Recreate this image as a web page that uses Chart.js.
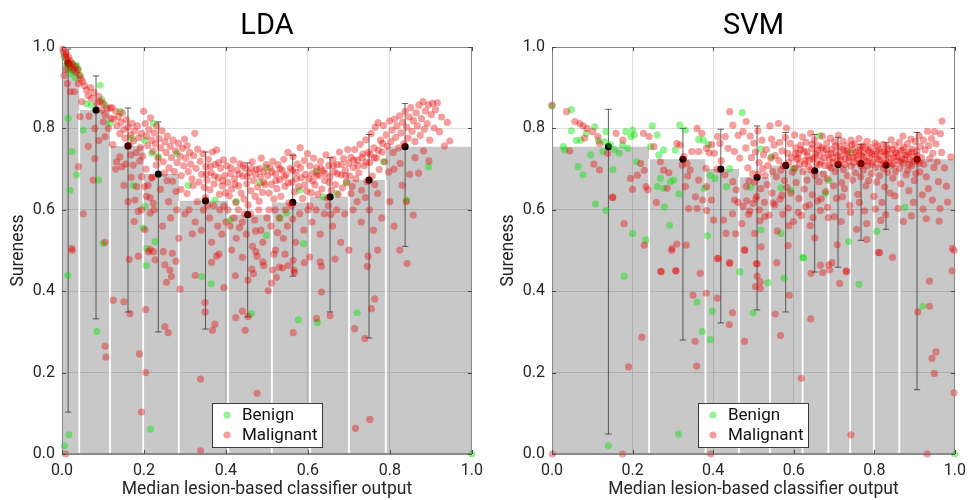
<!DOCTYPE html>
<html><head><meta charset="utf-8">
<script src="https://cdn.jsdelivr.net/npm/chart.js@4.4.1/dist/chart.umd.min.js"></script>
<style>
html,body{margin:0;padding:0;background:#fff;overflow:hidden;width:973px;height:500px;}
.wrap{position:absolute;top:0;height:500px;}
#w1{left:0;width:490px;}
#w2{left:490px;width:483px;}
</style></head><body>
<div class="wrap" id="w1"><canvas id="c1" width="490" height="500"></canvas></div>
<div class="wrap" id="w2"><canvas id="c2" width="483" height="500"></canvas></div>
<script>
// ---------------- DATA ----------------
const panelTitles = ['LDA', 'SVM'];
const seriesLabels = ['Benign', 'Malignant'];
const xAxisTitle = 'Median lesion-based classifier output';
const yAxisTitle = 'Sureness';

// LDA bins (grey bars = mean sureness per bin)
const ldaEdges = [0, 0.042, 0.117, 0.198, 0.285, 0.405, 0.512, 0.605, 0.700, 0.790, 1.0];
const ldaMeans = [0.960, 0.845, 0.757, 0.688, 0.622, 0.588, 0.618, 0.632, 0.673, 0.755];
const ldaMeanX = [0.015, 0.083, 0.161, 0.235, 0.350, 0.453, 0.563, 0.654, 0.749, 0.837];
const ldaErrHigh = [0.995, 0.929, 0.850, 0.816, 0.742, 0.715, 0.734, 0.728, 0.785, 0.861];
const ldaErrLow = [0.103, 0.332, 0.349, 0.300, 0.307, 0.337, 0.437, 0.349, 0.285, 0.510];

const ldaBenign = [
[0.005,0.975],[0.012,0.96],[0.018,0.95],[0.025,0.96],[0.028,0.94],[0.035,0.955],[0.04,0.945],[0.02,0.935],[0.015,0.945],[0.045,0.93],[0.032,0.925],
[0.015,0.825],[0.024,0.743],[0.036,0.686],[0.02,0.648],[0.052,0.796],[0.089,0.673],[0.1,0.517],[0.06,0.861],[0.072,0.857],[0.093,0.906],
[0.097,0.87],[0.105,0.857],[0.117,0.812],[0.142,0.841],[0.202,0.771],[0.219,0.739],[0.235,0.731],[0.28,0.739],[0.223,0.812],[0.17,0.776],
[0.198,0.555],[0.202,0.608],[0.227,0.522],[0.174,0.66],[0.207,0.505],[0.014,0.439],[0.017,0.047],[0.006,0.02],[1.0,0.0],[0.085,0.301],
[0.206,0.463],[0.216,0.061],[0.341,0.436],[0.364,0.418],[0.462,0.345],[0.577,0.33],[0.623,0.323],[0.72,0.347],
[0.308,0.66],[0.373,0.624],[0.425,0.62],[0.41,0.575],[0.499,0.703],[0.483,0.666],[0.532,0.58],[0.548,0.592],[0.499,0.537],
[0.58,0.648],[0.637,0.632],[0.67,0.64],[0.694,0.666],[0.621,0.694],[0.784,0.718],[0.894,0.706],[0.841,0.624],[0.589,0.517]
];

const ldaMalignant = [
[0.002,0.995],[0.004,0.988],[0.006,0.982],[0.008,0.976],[0.01,0.985],[0.012,0.97],[0.014,0.962],[0.016,0.975],[0.018,0.958],[0.02,0.966],
[0.022,0.95],[0.025,0.958],[0.028,0.944],[0.031,0.952],[0.034,0.938],[0.038,0.945],[0.042,0.93],[0.046,0.922],[0.05,0.915],[0.005,0.93],
[0.009,0.945],[0.013,0.91],[0.02,0.89],[0.03,0.89],[0.04,0.91],[0.048,0.866],[0.044,0.829],[0.064,0.756],[0.04,0.706],[0.052,0.59],
[0.024,0.505],[0.009,0.0],
[0.055,0.905],[0.06,0.894],[0.064,0.88],[0.07,0.9],[0.072,0.874],[0.078,0.888],[0.085,0.862],[0.09,0.878],[0.093,0.866],[0.097,0.845],
[0.1,0.862],[0.105,0.833],[0.11,0.85],[0.113,0.8],[0.117,0.85],[0.101,0.816],[0.08,0.8],[0.08,0.726],[0.076,0.673],[0.105,0.78],
[0.09,0.77],[0.066,0.83],[0.12,0.825],[0.105,0.52],
[0.122,0.851],[0.126,0.823],[0.131,0.842],[0.134,0.806],[0.138,0.829],[0.141,0.787],[0.144,0.815],[0.147,0.838],[0.151,0.797],[0.154,0.776],
[0.157,0.821],[0.161,0.803],[0.164,0.758],[0.167,0.784],[0.171,0.812],[0.174,0.769],[0.177,0.794],[0.181,0.741],[0.184,0.806],[0.187,0.777],
[0.191,0.753],[0.194,0.788],[0.197,0.732],[0.199,0.842],
[0.124,0.76],[0.131,0.7],[0.141,0.73],[0.133,0.718],[0.146,0.706],[0.151,0.66],[0.156,0.712],[0.161,0.62],[0.169,0.68],[0.174,0.71],
[0.176,0.571],[0.182,0.657],[0.178,0.624],[0.19,0.72],[0.194,0.6],[0.186,0.596],[0.168,0.735],
[0.203,0.812],[0.206,0.781],[0.209,0.758],[0.212,0.797],[0.216,0.826],[0.219,0.771],[0.222,0.744],[0.225,0.789],[0.228,0.762],[0.231,0.806],
[0.234,0.727],[0.237,0.775],[0.241,0.752],[0.244,0.794],[0.247,0.718],[0.251,0.767],[0.254,0.741],[0.257,0.781],[0.261,0.703],[0.264,0.756],
[0.267,0.728],[0.271,0.771],[0.274,0.694],[0.277,0.745],[0.281,0.716],[0.284,0.763],[0.288,0.732],[0.291,0.684],[0.294,0.751],[0.297,0.708],
[0.299,0.774],
[0.205,0.7],[0.21,0.66],[0.215,0.63],[0.22,0.68],[0.225,0.6],[0.23,0.71],[0.24,0.65],[0.245,0.56],[0.25,0.69],[0.26,0.62],
[0.265,0.58],[0.27,0.67],[0.28,0.6],[0.285,0.53],[0.29,0.65],[0.3,0.59],[0.202,0.657],[0.219,0.678],[0.194,0.681],[0.206,0.633],
[0.223,0.616],[0.215,0.592],[0.202,0.551],[0.215,0.502],[0.227,0.477],[0.256,0.672],[0.278,0.645],
[0.302,0.727],[0.305,0.758],[0.308,0.694],[0.311,0.741],[0.314,0.712],[0.317,0.676],[0.321,0.733],[0.324,0.788],[0.327,0.702],[0.331,0.749],
[0.334,0.668],[0.337,0.719],[0.341,0.687],[0.344,0.738],[0.347,0.655],[0.351,0.706],[0.354,0.673],[0.357,0.724],[0.361,0.649],[0.364,0.691],
[0.367,0.742],[0.371,0.664],[0.374,0.711],[0.377,0.747],[0.381,0.679],[0.384,0.638],[0.387,0.702],[0.391,0.659],[0.394,0.723],[0.397,0.684],
[0.399,0.642],
[0.305,0.64],[0.31,0.6],[0.32,0.66],[0.325,0.57],[0.33,0.62],[0.34,0.55],[0.345,0.6],[0.35,0.63],[0.36,0.58],[0.365,0.52],
[0.37,0.61],[0.38,0.56],[0.385,0.6],[0.39,0.54],[0.395,0.61],[0.4,0.57],[0.318,0.541],[0.356,0.611],
[0.402,0.708],[0.405,0.667],[0.408,0.634],[0.411,0.689],[0.414,0.651],[0.418,0.722],[0.421,0.676],[0.424,0.618],[0.427,0.697],[0.431,0.659],
[0.434,0.713],[0.437,0.641],[0.441,0.683],[0.444,0.627],[0.447,0.702],[0.451,0.664],[0.454,0.612],[0.457,0.691],[0.461,0.647],[0.464,0.718],
[0.467,0.672],[0.471,0.633],[0.474,0.699],[0.477,0.656],[0.481,0.621],[0.484,0.681],[0.486,0.727],[0.489,0.643],[0.492,0.694],[0.495,0.662],
[0.498,0.711],
[0.405,0.6],[0.41,0.56],[0.42,0.58],[0.425,0.53],[0.43,0.6],[0.44,0.57],[0.445,0.59],[0.45,0.54],[0.46,0.59],[0.465,0.51],
[0.47,0.575],[0.48,0.6],[0.485,0.55],[0.49,0.52],[0.5,0.58],[0.433,0.556],[0.472,0.548],
[0.502,0.684],[0.505,0.641],[0.508,0.703],[0.511,0.663],[0.514,0.719],[0.517,0.627],[0.521,0.688],[0.524,0.652],[0.527,0.711],[0.531,0.674],
[0.534,0.633],[0.537,0.697],[0.541,0.724],[0.544,0.658],[0.547,0.686],[0.551,0.741],[0.554,0.617],[0.557,0.702],[0.561,0.668],[0.564,0.731],
[0.567,0.644],[0.571,0.692],[0.574,0.712],[0.577,0.657],[0.581,0.753],[0.584,0.679],[0.587,0.628],[0.591,0.721],[0.594,0.687],[0.597,0.646],
[0.599,0.738],
[0.505,0.6],[0.51,0.56],[0.52,0.6],[0.53,0.58],[0.54,0.53],[0.545,0.6],[0.55,0.56],[0.56,0.61],[0.57,0.52],[0.58,0.59],
[0.59,0.55],[0.6,0.6],[0.526,0.544],[0.563,0.577],
[0.602,0.676],[0.605,0.708],[0.608,0.642],[0.611,0.689],[0.614,0.727],[0.617,0.661],[0.621,0.703],[0.624,0.638],[0.627,0.684],[0.631,0.719],
[0.634,0.651],[0.637,0.696],[0.641,0.672],[0.644,0.735],[0.647,0.629],[0.651,0.709],[0.654,0.681],[0.657,0.648],[0.661,0.724],[0.664,0.693],
[0.667,0.662],[0.671,0.711],[0.674,0.638],[0.677,0.742],[0.681,0.686],[0.684,0.654],[0.687,0.726],[0.691,0.697],[0.694,0.668],[0.697,0.748],
[0.699,0.714],
[0.605,0.61],[0.61,0.57],[0.62,0.6],[0.63,0.54],[0.64,0.59],[0.65,0.61],[0.66,0.56],[0.67,0.6],[0.68,0.52],[0.69,0.59],[0.656,0.589],
[0.702,0.683],[0.705,0.729],[0.708,0.657],[0.711,0.704],[0.714,0.748],[0.717,0.676],[0.721,0.722],[0.724,0.691],[0.727,0.761],[0.731,0.648],
[0.734,0.737],[0.737,0.708],[0.741,0.772],[0.744,0.669],[0.747,0.741],[0.751,0.716],[0.754,0.787],[0.757,0.683],[0.761,0.752],[0.764,0.803],
[0.767,0.727],[0.771,0.814],[0.774,0.699],[0.777,0.771],[0.781,0.742],[0.784,0.807],[0.787,0.718],[0.791,0.784],[0.794,0.756],[0.797,0.693],
[0.799,0.818],
[0.705,0.64],[0.71,0.6],[0.72,0.62],[0.73,0.57],[0.74,0.63],[0.75,0.6],[0.76,0.55],[0.77,0.64],[0.78,0.58],[0.8,0.62],[0.763,0.662],
[0.802,0.768],[0.805,0.796],[0.808,0.741],[0.811,0.823],[0.814,0.778],[0.817,0.806],[0.821,0.752],[0.824,0.831],[0.827,0.789],[0.831,0.815],
[0.834,0.762],[0.837,0.842],[0.841,0.803],[0.844,0.776],[0.847,0.828],[0.851,0.851],[0.854,0.793],[0.857,0.819],[0.861,0.768],[0.864,0.838],
[0.867,0.806],[0.871,0.857],[0.874,0.783],[0.877,0.824],[0.881,0.866],[0.884,0.798],[0.887,0.843],[0.891,0.812],[0.894,0.858],[0.897,0.771],
[0.901,0.834],[0.904,0.862],[0.908,0.801],[0.911,0.846],[0.916,0.863],[0.921,0.792],[0.926,0.828],[0.933,0.757],[0.94,0.815],[0.946,0.769],
[0.882,0.745],[0.861,0.728],
[0.81,0.7],[0.83,0.66],[0.84,0.62],[0.857,0.587],[0.87,0.69],[0.81,0.56],[0.825,0.714],[0.848,0.687],[0.895,0.72],
[0.352,0.688],[0.362,0.707],[0.372,0.683],[0.382,0.716],[0.392,0.671],[0.412,0.703],[0.422,0.663],[0.432,0.688],[0.442,0.709],[0.452,0.681],
[0.462,0.702],[0.472,0.688],[0.482,0.701],[0.492,0.668],[0.512,0.693],[0.522,0.672],[0.532,0.701],[0.542,0.681],[0.552,0.666],[0.562,0.697],
[0.572,0.676],[0.582,0.703],[0.592,0.661],[0.612,0.671],[0.622,0.686],[0.632,0.702],[0.642,0.689],[0.652,0.667],[0.662,0.708],[0.672,0.689],
[0.682,0.711],[0.692,0.684],[0.712,0.722],[0.722,0.708],[0.732,0.728],[0.742,0.717],[0.752,0.736],[0.762,0.728],[0.772,0.746],[0.782,0.763],
[0.025,0.5],[0.105,0.265],[0.107,0.238],[0.125,0.378],[0.151,0.374],[0.166,0.345],[0.164,0.478],[0.186,0.486],[0.189,0.246],[0.204,0.2],
[0.194,0.103],[0.204,0.355],[0.211,0.497],[0.223,0.497],[0.247,0.497],[0.251,0.465],[0.255,0.422],[0.263,0.452],[0.267,0.436],[0.269,0.493],
[0.278,0.474],[0.251,0.313],[0.259,0.298],[0.288,0.405],[0.325,0.439],[0.338,0.184],[0.338,0.008],[0.349,0.372],[0.349,0.349],[0.367,0.304],
[0.373,0.319],[0.365,0.471],[0.377,0.486],[0.383,0.491],[0.395,0.409],[0.414,0.501],[0.423,0.438],[0.424,0.335],[0.44,0.483],[0.44,0.351],
[0.447,0.304],[0.454,0.427],[0.454,0.338],[0.463,0.454],[0.467,0.443],[0.476,0.149],[0.473,0.497],[0.476,0.486],[0.49,0.472],[0.492,0.463],
[0.503,0.401],[0.511,0.42],[0.514,0.452],[0.523,0.434],[0.517,0.491],[0.521,0.501],[0.53,0.459],[0.538,0.457],[0.544,0.491],[0.552,0.463],
[0.564,0.476],[0.564,0.298],[0.566,0.452],[0.567,0.446],[0.591,0.47],[0.604,0.484],[0.621,0.333],[0.63,0.472],[0.633,0.461],[0.633,0.398],
[0.654,0.34],[0.666,0.479],[0.7,0.501],[0.714,0.308],[0.716,0.063],[0.739,0.284],[0.745,0.461],[0.747,0.486],[0.751,0.085],[0.755,0.357],
[0.763,0.381],[0.77,0.501],[0.842,0.468],[0.824,0.501]
];

// SVM bins
const svmEdges = [0, 0.241, 0.381, 0.464, 0.541, 0.622, 0.686, 0.740, 0.799, 0.862, 1.0];
const svmMeans = [0.755, 0.724, 0.700, 0.680, 0.709, 0.696, 0.711, 0.714, 0.710, 0.724];
const svmMeanX = [0.140, 0.325, 0.419, 0.509, 0.580, 0.652, 0.710, 0.767, 0.829, 0.906];
const svmErrHigh = [0.847, 0.800, 0.798, 0.806, 0.790, 0.785, 0.778, 0.761, 0.765, 0.790];
const svmErrLow = [0.049, 0.280, 0.322, 0.354, 0.349, 0.447, 0.459, 0.525, 0.552, 0.158];

const svmBenign = [
[0.0,0.855],[0.048,0.846],[0.085,0.788],[0.048,0.794],[0.06,0.77],[0.071,0.771],[0.106,0.804],[0.13,0.767],[0.134,0.792],[0.126,0.743],
[0.096,0.735],[0.032,0.747],[0.028,0.755],[0.065,0.706],[0.077,0.686],[0.151,0.699],[0.175,0.759],[0.183,0.792],[0.2,0.796],[0.204,0.784],
[0.167,0.739],[0.188,0.751],[0.196,0.78],[0.134,0.598],[0.108,0.614],[0.2,0.542],[0.179,0.437],[0.21,0.718],[0.233,0.526],[0.249,0.806],
[0.261,0.784],[0.245,0.755],[0.277,0.747],[0.265,0.735],[0.269,0.677],[0.294,0.669],[0.302,0.673],[0.261,0.657],[0.277,0.653],[0.279,0.607],
[0.292,0.562],[0.317,0.808],[0.331,0.796],[0.306,0.747],[0.315,0.639],[0.364,0.773],[0.376,0.771],[0.388,0.76],[0.392,0.685],[0.404,0.677],
[0.378,0.653],[0.386,0.536],[0.441,0.701],[0.472,0.839],[0.433,0.657],[0.145,0.76],[0.155,0.748],[0.115,0.77],
[0.36,0.373],[0.398,0.351],[0.499,0.347],[0.373,0.301],[0.393,0.281],[0.466,0.448],[0.536,0.421],[0.576,0.432],[0.762,0.417],[0.92,0.363],
[0.314,0.049],[0.14,0.02],[1.0,0.0],[0.623,0.483],
[0.519,0.749],[0.493,0.655],[0.568,0.654],[0.593,0.648],[0.679,0.64],[0.687,0.672],[0.519,0.551],[0.568,0.542],[0.624,0.482],[0.736,0.522],
[0.806,0.547],[0.876,0.606],[0.74,0.742],[0.665,0.782],[0.6,0.7],[0.545,0.73]
];

const svmMalignant = [
[0.0,0.857],[0.036,0.841],[0.057,0.817],[0.069,0.812],[0.077,0.806],[0.087,0.8],[0.081,0.776],[0.101,0.792],[0.114,0.78],[0.118,0.763],
[0.159,0.788],[0.044,0.745],[0.104,0.712],[0.118,0.698],[0.176,0.771],[0.151,0.631],[0.179,0.566],[0.195,0.677],[0.22,0.714],[0.227,0.788],
[0.229,0.697],[0.233,0.657],[0.238,0.649],[0.2,0.65],[0.229,0.513],[0.212,0.685],[0.241,0.78],[0.253,0.755],[0.138,0.739],[0.15,0.63],
[0.269,0.718],[0.277,0.698],[0.29,0.691],[0.286,0.653],[0.259,0.618],[0.31,0.763],[0.318,0.759],[0.327,0.731],[0.323,0.71],[0.335,0.714],
[0.331,0.657],[0.337,0.683],[0.343,0.698],[0.36,0.8],[0.372,0.788],[0.347,0.743],[0.364,0.743],[0.383,0.751],[0.396,0.76],[0.411,0.78],
[0.417,0.763],[0.403,0.739],[0.382,0.702],[0.364,0.673],[0.384,0.657],[0.356,0.632],[0.374,0.624],[0.396,0.624],[0.339,0.603],[0.36,0.603],
[0.384,0.598],[0.401,0.575],[0.426,0.575],[0.298,0.505],[0.31,0.516],[0.333,0.513],[0.413,0.481],[0.441,0.47],[0.441,0.841],[0.449,0.808],
[0.462,0.783],[0.474,0.792],[0.482,0.817],[0.437,0.751],[0.453,0.743],[0.466,0.727],[0.429,0.686],[0.449,0.669],[0.457,0.649],[0.482,0.657],
[0.453,0.624],[0.474,0.608],[0.448,0.59],[0.432,0.542],[0.456,0.541],[0.478,0.502],[0.42,0.72],[0.43,0.78],[0.41,0.7],[0.39,0.74],
[0.297,0.5],[0.27,0.449],[0.307,0.45],[0.41,0.48],[0.441,0.468],[0.478,0.5],[0.558,0.47],[0.509,0.467],
[0.481,0.752],[0.486,0.703],[0.489,0.671],[0.483,0.622],[0.492,0.781],[0.495,0.728],[0.498,0.689],[0.491,0.597],[0.501,0.764],[0.505,0.742],
[0.503,0.668],[0.508,0.633],[0.511,0.794],[0.514,0.716],[0.512,0.688],[0.518,0.652],[0.516,0.573],[0.521,0.771],[0.525,0.735],[0.523,0.701],
[0.529,0.684],[0.527,0.618],[0.532,0.748],[0.536,0.709],[0.534,0.662],[0.539,0.587],[0.541,0.806],[0.545,0.774],[0.543,0.727],[0.548,0.694],
[0.546,0.641],[0.551,0.759],[0.554,0.733],[0.557,0.681],[0.553,0.612],[0.559,0.548],[0.562,0.812],[0.565,0.766],[0.563,0.721],[0.568,0.697],
[0.566,0.626],[0.571,0.745],[0.574,0.708],[0.577,0.672],[0.573,0.589],[0.579,0.778],[0.582,0.801],[0.585,0.739],[0.588,0.716],[0.583,0.655],
[0.586,0.604],[0.591,0.763],[0.594,0.728],[0.597,0.692],[0.593,0.641],[0.599,0.571],[0.602,0.784],[0.605,0.752],[0.608,0.724],[0.603,0.703],
[0.606,0.667],[0.611,0.738],[0.614,0.712],[0.617,0.759],[0.613,0.628],[0.619,0.586],[0.622,0.779],[0.625,0.744],[0.628,0.721],[0.623,0.694],
[0.626,0.651],[0.631,0.766],[0.634,0.732],[0.637,0.706],[0.633,0.673],[0.639,0.612],[0.642,0.788],[0.645,0.751],[0.648,0.725],[0.643,0.698],
[0.646,0.637],[0.641,0.561],[0.651,0.772],[0.654,0.739],[0.657,0.712],[0.653,0.684],[0.659,0.622],[0.662,0.758],[0.665,0.733],[0.668,0.718],
[0.663,0.669],[0.666,0.598],[0.671,0.781],[0.674,0.747],[0.677,0.709],[0.673,0.688],[0.679,0.645],[0.682,0.764],[0.685,0.736],[0.688,0.722],
[0.683,0.676],[0.686,0.581],[0.691,0.776],[0.694,0.749],[0.697,0.728],[0.693,0.703],[0.699,0.659],[0.702,0.767],[0.705,0.741],[0.708,0.717],
[0.703,0.694],[0.706,0.628],[0.711,0.783],[0.714,0.755],[0.717,0.731],[0.713,0.712],[0.719,0.667],[0.718,0.571],[0.722,0.769],[0.725,0.744],
[0.728,0.726],[0.723,0.699],[0.726,0.652],[0.731,0.758],[0.734,0.737],[0.737,0.719],[0.733,0.684],[0.739,0.611],[0.742,0.771],[0.745,0.748],
[0.748,0.729],[0.743,0.707],[0.746,0.673],[0.751,0.762],[0.754,0.741],[0.757,0.723],[0.753,0.691],[0.759,0.638],[0.756,0.552],[0.762,0.775],
[0.765,0.752],[0.768,0.734],[0.763,0.716],[0.766,0.681],[0.771,0.757],[0.774,0.739],[0.777,0.721],[0.773,0.698],[0.779,0.659],[0.776,0.597],
[0.782,0.768],[0.785,0.746],[0.788,0.727],[0.783,0.709],[0.786,0.672],[0.791,0.753],[0.794,0.736],[0.797,0.718],[0.793,0.689],[0.799,0.633],
[0.802,0.764],[0.805,0.743],[0.808,0.726],[0.803,0.704],[0.806,0.668],[0.811,0.749],[0.814,0.731],[0.817,0.712],[0.813,0.684],[0.819,0.618],
[0.816,0.574],[0.822,0.761],[0.825,0.742],[0.828,0.723],[0.823,0.701],[0.826,0.656],[0.831,0.755],[0.834,0.737],[0.837,0.716],[0.833,0.692],
[0.839,0.641],[0.842,0.772],[0.845,0.748],[0.848,0.729],[0.843,0.708],[0.846,0.678],[0.851,0.758],[0.854,0.739],[0.857,0.721],[0.853,0.694],
[0.859,0.603],[0.862,0.766],[0.865,0.745],[0.868,0.727],[0.863,0.702],[0.866,0.664],[0.871,0.781],[0.874,0.753],[0.877,0.734],[0.873,0.714],
[0.879,0.686],[0.882,0.762],[0.885,0.741],[0.888,0.723],[0.883,0.697],[0.886,0.647],[0.891,0.774],[0.894,0.749],[0.897,0.731],[0.893,0.708],
[0.899,0.672],[0.902,0.768],[0.905,0.744],[0.908,0.719],[0.903,0.689],[0.911,0.782],[0.914,0.756],[0.917,0.728],[0.913,0.693],[0.919,0.637],
[0.922,0.771],[0.926,0.747],[0.923,0.712],[0.929,0.681],[0.932,0.793],[0.935,0.758],[0.938,0.726],[0.934,0.652],[0.942,0.775],[0.945,0.739],
[0.948,0.704],[0.953,0.762],[0.956,0.718],[0.959,0.669],[0.964,0.787],[0.967,0.741],[0.974,0.703],[0.979,0.658],[0.968,0.818],[0.949,0.792],
[0.929,0.578],[0.892,0.585],[0.963,0.603],[0.982,0.619],[0.99,0.73],[0.994,0.505],[0.81,0.495],[0.845,0.483],
[0.604,0.738],[0.611,0.727],[0.618,0.748],[0.627,0.713],[0.633,0.742],[0.639,0.722],[0.646,0.761],[0.652,0.729],[0.659,0.746],[0.664,0.711],
[0.669,0.752],[0.676,0.728],[0.681,0.749],[0.688,0.707],[0.692,0.738],[0.698,0.717],[0.704,0.757],[0.709,0.733],[0.716,0.722],[0.721,0.748],
[0.727,0.711],[0.732,0.744],[0.738,0.729],[0.744,0.759],[0.749,0.716],[0.755,0.733],[0.761,0.746],[0.767,0.708],[0.772,0.731],[0.778,0.752],
[0.783,0.719],[0.789,0.741],[0.795,0.712],[0.801,0.736],[0.807,0.758],[0.812,0.722],[0.818,0.744],[0.824,0.715],[0.829,0.737],[0.835,0.749],
[0.841,0.726],[0.847,0.712],[0.852,0.741],[0.858,0.731],[0.864,0.718],[0.869,0.747],[0.875,0.724],[0.881,0.735],[0.887,0.711],[0.893,0.742],
[0.899,0.719],[0.906,0.733],[0.912,0.714],
[0.462,0.618],[0.471,0.566],[0.488,0.589],[0.506,0.627],[0.528,0.583],[0.549,0.617],[0.571,0.636],[0.588,0.561],[0.611,0.594],[0.629,0.608],
[0.648,0.581],[0.668,0.627],[0.684,0.606],[0.701,0.583],[0.721,0.632],[0.741,0.594],[0.763,0.618],[0.781,0.566],[0.803,0.602],[0.828,0.588],
[0.851,0.634],[0.872,0.571],[0.897,0.618],[0.921,0.602],[0.944,0.624],[0.961,0.572],[0.652,0.531],[0.708,0.514],[0.781,0.527],[0.586,0.512],
[0.499,0.616],[0.515,0.6],[0.503,0.542],[0.519,0.509],[0.507,0.468],[0.666,0.464],[0.695,0.47],[0.73,0.45],[0.687,0.465],
[0.271,0.448],[0.308,0.45],[0.368,0.444],[0.509,0.437],[0.517,0.423],[0.505,0.411],[0.517,0.407],[0.643,0.444],[0.672,0.446],[0.689,0.452],
[0.731,0.448],[0.714,0.419],[0.937,0.425],[0.993,0.45],[0.35,0.39],[0.383,0.395],[0.41,0.383],[0.448,0.347],[0.554,0.344],[0.589,0.39],
[0.44,0.318],[0.355,0.277],[0.478,0.277],[0.567,0.291],[0.642,0.332],[0.223,0.287],[0.19,0.214],[0.359,0.216],[0.619,0.186],[0.908,0.349],
[0.937,0.363],[0.953,0.251],[0.943,0.235],[0.949,0.198],[0.998,0.15],[0.742,0.047],[0.001,0.0],[0.175,0.0],[0.394,0.0],[0.931,0.0],
[0.813,0.495],[0.998,0.5]
];

// ---------------- BUILD ----------------
const FONT = 'Roboto, "Noto Sans", "DejaVu Sans", sans-serif';
Chart.defaults.font.family = FONT;

const toPts = arr => arr.map(p => ({x: p[0], y: p[1]}));

function buildDatasets(edges, means, meanX, lo, hi, benign, malignant) {
  const stepData = means.map((m, i) => ({x: edges[i], y: m}));
  stepData.push({x: edges[edges.length - 1], y: means[means.length - 1]});
  const sepData = [];
  for (let i = 1; i < edges.length - 1; i++) {
    sepData.push({x: edges[i], y: 0}, {x: edges[i], y: Math.min(means[i - 1], means[i])}, {x: edges[i], y: null});
  }
  const errData = [];
  meanX.forEach((x, i) => { errData.push({x: x, y: lo[i]}, {x: x, y: hi[i]}, {x: x, y: null}); });
  return [
    {label: seriesLabels[1], legend: true, type: 'scatter', data: toPts(malignant), backgroundColor: 'rgba(228,0,0,0.38)',
     borderWidth: 0, pointRadius: 3.6, pointHoverRadius: 3.6, clip: false, order: 0},
    {label: seriesLabels[0], legend: true, type: 'scatter', data: toPts(benign), backgroundColor: 'rgba(0,225,0,0.42)',
     borderWidth: 0, pointRadius: 3.6, pointHoverRadius: 3.6, clip: false, order: 1},
    {label: 'mean', type: 'scatter', data: meanX.map((x, i) => ({x: x, y: means[i]})), backgroundColor: '#000',
     borderWidth: 0, pointRadius: 3.6, order: 2},
    {label: 'err', type: 'line', data: errData, borderColor: 'rgba(45,45,45,0.75)', borderWidth: 1, spanGaps: false, fill: false,
     pointStyle: 'line', pointRadius: 3.2, pointBorderWidth: 1, pointBorderColor: 'rgba(45,45,45,0.75)', order: 3},
    {label: 'sep', type: 'line', data: sepData, borderColor: '#ffffff', borderWidth: 1.8, spanGaps: false, fill: false,
     pointRadius: 0, order: 4},
    {label: 'bars', type: 'line', data: stepData, stepped: true, fill: 'origin', backgroundColor: 'rgba(0,0,0,0.215)',
     borderColor: 'rgba(0,0,0,0)', borderWidth: 0, pointRadius: 0, order: 5}
  ];
}

const frame = {
  id: 'frame',
  afterDatasetsDraw(chart) {
    const {ctx, chartArea: a, scales} = chart;
    ctx.save();
    ctx.strokeStyle = '#8a8a8a'; ctx.lineWidth = 1;
    ctx.strokeRect(Math.round(a.left) + 0.5, Math.round(a.top) + 0.5, Math.round(a.right - a.left) - 1, Math.round(a.bottom - a.top) - 1);
    ctx.strokeStyle = '#4a4a4a';
    ctx.beginPath();
    scales.x.ticks.forEach(t => {
      const px = Math.round(scales.x.getPixelForValue(t.value)) + 0.5;
      ctx.moveTo(px, a.top); ctx.lineTo(px, a.top + 4);
      ctx.moveTo(px, a.bottom); ctx.lineTo(px, a.bottom - 4);
    });
    scales.y.ticks.forEach(t => {
      const py = Math.round(scales.y.getPixelForValue(t.value)) + 0.5;
      ctx.moveTo(a.left, py); ctx.lineTo(a.left + 4, py);
      ctx.moveTo(a.right, py); ctx.lineTo(a.right - 4, py);
    });
    ctx.stroke();
    ctx.restore();
  }
};

const insideLegend = {
  id: 'insideLegend',
  afterDraw(chart) {
    const {ctx, chartArea: a} = chart;
    const w = 110, h = 44;
    const x0 = Math.round((a.left + a.right) / 2 - w / 2), y0 = Math.round(a.bottom - 7 - h);
    ctx.save();
    ctx.fillStyle = '#fff'; ctx.fillRect(x0, y0, w, h);
    ctx.strokeStyle = '#3a3a3a'; ctx.lineWidth = 1; ctx.strokeRect(x0 + 0.5, y0 + 0.5, w, h);
    const items = chart.data.datasets.filter(d => d.legend).reverse();
    items.forEach((d, i) => {
      const cy = y0 + 12 + i * 20;
      ctx.fillStyle = d.backgroundColor;
      ctx.beginPath(); ctx.arc(x0 + 15, cy, 3.6, 0, Math.PI * 2); ctx.fill();
      ctx.fillStyle = '#111'; ctx.font = '17px ' + FONT; ctx.textBaseline = 'middle'; ctx.textAlign = 'left';
      ctx.fillText(d.label, x0 + 30, cy + 1);
    });
    ctx.restore();
  }
};

function axis(titleText, isX) {
  return {
    type: 'linear', min: 0, max: 1,
    ticks: {stepSize: 0.2, callback: v => v.toFixed(1), font: {size: 16}, color: '#262626', padding: 7, maxRotation: 0, autoSkip: false},
    grid: {color: '#e0e0e0', lineWidth: 1, drawTicks: false},
    border: {display: true, color: '#8a8a8a'},
    title: {display: true, text: titleText, font: {size: 17.5}, color: '#262626',
            padding: isX ? {top: 0, bottom: 0} : {top: 8, bottom: 0}},
    afterFit: isX ? (s => { s.height = 46; }) : (s => { s.width = 62; })
  };
}

function makeChart(id, title, datasets, padRight) {
  return new Chart(document.getElementById(id), {
    type: 'scatter',
    data: {datasets: datasets},
    options: {
      responsive: false, animation: false, events: [],
      layout: {padding: {left: 0, right: padRight, top: 0, bottom: 0}},
      plugins: {
        legend: {display: false}, tooltip: {enabled: false},
        title: {display: true, text: title, fullSize: false, font: {size: 29, weight: 'normal'}, color: '#000',
                padding: {top: 9, bottom: 3.2}}
      },
      scales: {x: axis(xAxisTitle, true), y: axis(yAxisTitle, false)}
    },
    plugins: [frame, insideLegend]
  });
}

makeChart('c1', panelTitles[0], buildDatasets(ldaEdges, ldaMeans, ldaMeanX, ldaErrLow, ldaErrHigh, ldaBenign, ldaMalignant), 18);
makeChart('c2', panelTitles[1], buildDatasets(svmEdges, svmMeans, svmMeanX, svmErrLow, svmErrHigh, svmBenign, svmMalignant), 14);
</script></body></html>
